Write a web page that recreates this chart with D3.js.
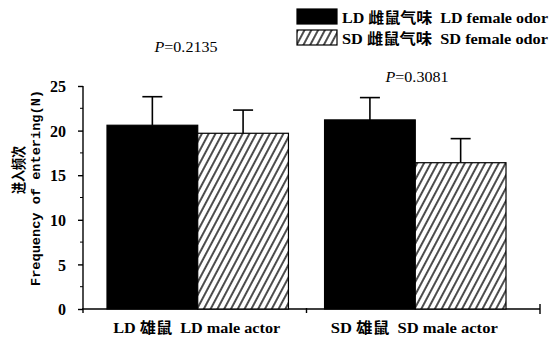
<!DOCTYPE html>
<html><head><meta charset="utf-8">
<script src="https://cdn.jsdelivr.net/npm/d3@7"></script>
<style>body{margin:0;background:#fff}svg{display:block}</style>
</head><body>
<svg id="c" width="549" height="339"></svg>
<script>
const groups = ["LD", "SD"];
const groupLabels = ["LD 雄鼠  LD male actor", "SD 雄鼠  SD male actor"];
const series = ["LD 雌鼠气味  LD female odor", "SD 雌鼠气味  SD female odor"];
const means = [[20.6, 19.7], [21.2, 16.4]];
const errs = [[3.2, 2.6], [2.5, 2.7]];
const pLabels = ["0.2135", "0.3081"];
const yTicks = [0, 5, 10, 15, 20, 25];

const svg = d3.select("#c");
const FONT = "'Liberation Serif','Noto Sans CJK SC',serif";
const defs = svg.append("defs");
const pat = defs.append("pattern").attr("id","hatch").attr("patternUnits","userSpaceOnUse")
  .attr("width",6).attr("height",6).attr("patternTransform","rotate(28)");
pat.append("rect").attr("width",6).attr("height",6).attr("fill","#fff");
pat.append("line").attr("x1",1).attr("y1",0).attr("x2",1).attr("y2",6).attr("stroke","#000").attr("stroke-width",1.4);

const y = d3.scaleLinear().domain([0,25]).range([309,86]);
const x0 = d3.scaleBand().domain(groups).range([107,506]).paddingInner(0.166);
const x1 = d3.scaleBand().domain([0,1]).range([0,x0.bandwidth()]);
const fills = ["#000","url(#hatch)"];

// y axis
const yAxis = d3.axisLeft(y).tickValues(yTicks).tickSize(5).tickFormat(d3.format("d"));
const ga = svg.append("g").attr("transform","translate(83,0)").call(yAxis);
ga.select(".domain").attr("d","M0,86V313").attr("stroke","#000").attr("stroke-width",1.4);
ga.selectAll(".tick line").attr("stroke","#000").attr("stroke-width",1.4);
ga.selectAll(".tick text").attr("font-family",FONT).attr("font-weight","bold").attr("font-size",16)
  .attr("fill","#000").attr("x",-17).attr("dy","0.35em");
const minor = d3.range(2.5,25,5);
svg.append("g").selectAll("line").data(minor).join("line")
  .attr("x1",80).attr("x2",83).attr("y1",d=>y(d)).attr("y2",d=>y(d)).attr("stroke","#000").attr("stroke-width",1);

// x axis
svg.append("line").attr("x1",82).attr("x2",540).attr("y1",y(0)).attr("y2",y(0)).attr("stroke","#000").attr("stroke-width",1.4);
const midX = (x0("LD")+x0.bandwidth()+x0("SD"))/2;
svg.append("line").attr("x1",midX).attr("x2",midX).attr("y1",y(0)-1).attr("y2",y(0)+4).attr("stroke","#000").attr("stroke-width",1.4);
svg.append("line").attr("x1",540).attr("x2",540).attr("y1",y(0)-5).attr("y2",y(0)+5).attr("stroke","#000").attr("stroke-width",1.4);

// bars
groups.forEach((g,gi)=>{
  means[gi].forEach((m,si)=>{
    const bx = x0(g)+x1(si), bw = x1.bandwidth();
    const cx = bx + bw/2;
    const top = y(m+errs[gi][si]);
    svg.append("line").attr("x1",cx).attr("x2",cx).attr("y1",top).attr("y2",y(m)).attr("stroke","#000").attr("stroke-width",1.6);
    svg.append("line").attr("x1",cx-10).attr("x2",cx+10).attr("y1",top).attr("y2",top).attr("stroke","#000").attr("stroke-width",1.6);
    svg.append("rect").attr("x",bx).attr("y",y(m)).attr("width",bw).attr("height",y(0)-y(m))
      .attr("fill",fills[si]).attr("stroke","#000").attr("stroke-width",1.2);
  });
  svg.append("text").attr("x",x0(g)+x0.bandwidth()/2-1).attr("y",333).attr("text-anchor","middle")
    .attr("font-family",FONT).attr("font-weight","bold").attr("font-size",15).attr("xml:space","preserve")
    .attr("textLength",167).attr("lengthAdjust","spacingAndGlyphs")
    .text(groupLabels[gi]);
});

// P labels
const pY = [52, 82];
const pX = [186, 417];
groups.forEach((g,gi)=>{
  const t = svg.append("text").attr("x",pX[gi]).attr("y",pY[gi]).attr("text-anchor","middle")
    .attr("font-family",FONT).attr("font-size",15).attr("fill","#000")
    .attr("textLength",63).attr("lengthAdjust","spacingAndGlyphs");
  t.append("tspan").attr("font-style","italic").text("P");
  t.append("tspan").text("="+pLabels[gi]);
});

// legend
series.forEach((s,si)=>{
  const ly = 9 + si*21;
  svg.append("rect").attr("x",297).attr("y",ly).attr("width",40).attr("height",15)
    .attr("fill",fills[si]).attr("stroke","#000").attr("stroke-width",1.2);
  svg.append("text").attr("x",342).attr("y",ly+14).attr("font-family",FONT).attr("font-weight","bold")
    .attr("font-size",15).attr("xml:space","preserve")
    .attr("textLength",206).attr("lengthAdjust","spacingAndGlyphs").text(s);
});

// y label
svg.append("text").attr("transform","translate(24,170) rotate(-90)").attr("text-anchor","middle")
  .attr("font-family","'Noto Sans CJK SC',sans-serif").attr("font-weight","bold").attr("font-size",15)
  .attr("textLength",48).attr("lengthAdjust","spacingAndGlyphs").text("进入频次");
svg.append("text").attr("transform","translate(40,188) rotate(-90)").attr("text-anchor","middle")
  .attr("font-family","'Liberation Mono','DejaVu Sans Mono',monospace").attr("font-weight","bold").attr("font-size",13)
  .attr("textLength",196).attr("lengthAdjust","spacingAndGlyphs").text("Frequency of entering(N)");
</script>
</body></html>
